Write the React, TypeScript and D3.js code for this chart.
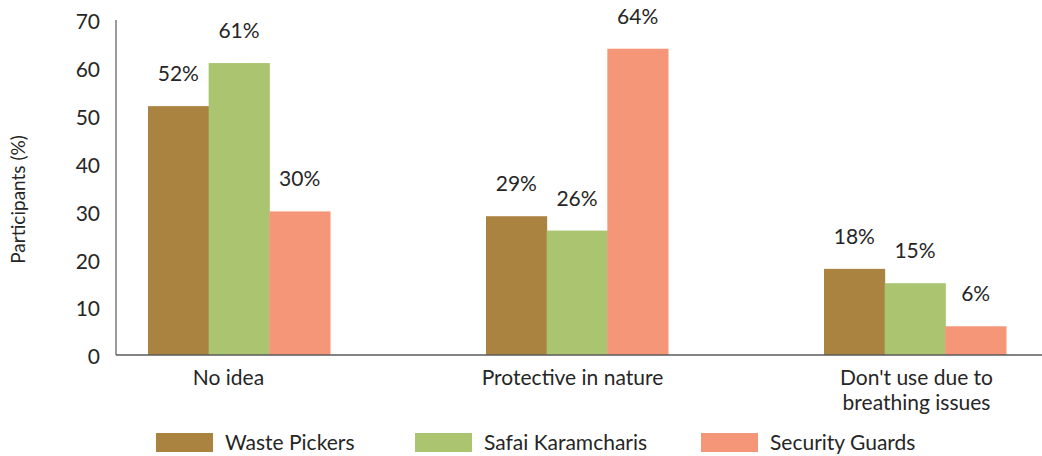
import React from "react";
import * as d3 from "d3";

const categories: string[][] = [["No idea"], ["Protective in nature"], ["Don't use due to", "breathing issues"]];
const seriesNames = ["Waste Pickers", "Safai Karamcharis", "Security Guards"];
const wastePickers = [52, 29, 18];
const safaiKaramcharis = [61, 26, 15];
const securityGuards = [30, 64, 6];
const colors = ["#AB8340", "#ABC46F", "#F59679"];
const yTicks = [0, 10, 20, 30, 40, 50, 60, 70];

export default function App() {
  const W = 1042, H = 456;
  const font = "Lato, 'Noto Sans', sans-serif";
  const textColor = "#262626";
  const fs = 21;
  const series = [wastePickers, safaiKaramcharis, securityGuards];
  const keys = categories.map((c) => c.join(" "));
  const x0 = d3.scaleBand<string>().domain(keys).range([70, 1084]).paddingInner(156 / 338).paddingOuter(78 / 338);
  const x1 = d3.scaleBand<number>().domain([0, 1, 2]).range([0, x0.bandwidth()]);
  const xLabel = d3.scalePoint<string>().domain(keys).range([228.5, 916.5]);
  const y = d3.scaleLinear().domain([0, 70]).range([355, 20]);
  const axisLeft = 116;
  return (
    <svg width={W} height={H} style={{ position: "absolute", left: 0, top: 0, background: "#fff" }}>
      {keys.map((k, ci) =>
        series.map((s, si) => (
          <g key={k + si}>
            <rect x={x0(k)! + x1(si)!} y={y(s[ci])} width={x1.bandwidth() + 0.5} height={y(0) - y(s[ci])} fill={colors[si]} />
            <text x={x0(k)! + x1(si)! + x1.bandwidth() / 2} y={y(s[ci]) - 25} textAnchor="middle" fontFamily={font} fontSize={fs} fill={textColor}>
              {s[ci]}%
            </text>
          </g>
        ))
      )}
      <line x1={axisLeft} x2={axisLeft} y1={y(70)} y2={y(0)} stroke="#7a7a7a" strokeWidth={1.5} />
      <line x1={axisLeft} x2={W} y1={y(0)} y2={y(0)} stroke="#5a5a5a" strokeWidth={1.5} />
      {yTicks.map((t) => (
        <text key={t} x={100} y={y(t) + 2} dy="0.35em" textAnchor="end" fontFamily={font} fontSize={fs} fill={textColor}>
          {t}
        </text>
      ))}
      <text transform={`translate(25,${(y(0) + y(70)) / 2 + 12}) rotate(-90)`} textAnchor="middle" fontFamily={font} fontSize={19} fill={textColor}>
        Participants (%)
      </text>
      {categories.map((lines, ci) => (
        <text key={ci} textAnchor="middle" fontFamily={font} fontSize={fs} fill={textColor}>
          {lines.map((l, li) => (
            <tspan key={li} x={xLabel(keys[ci])!} y={385 + li * 25}>
              {l}
            </tspan>
          ))}
        </text>
      ))}
      {seriesNames.map((n, i) => {
        const lx = [156, 415, 701][i];
        return (
          <g key={n}>
            <rect x={lx} y={433} width={57} height={19} fill={colors[i]} />
            <text x={lx + 69} y={450} fontFamily={font} fontSize={fs} fill={textColor}>
              {n}
            </text>
          </g>
        );
      })}
    </svg>
  );
}
